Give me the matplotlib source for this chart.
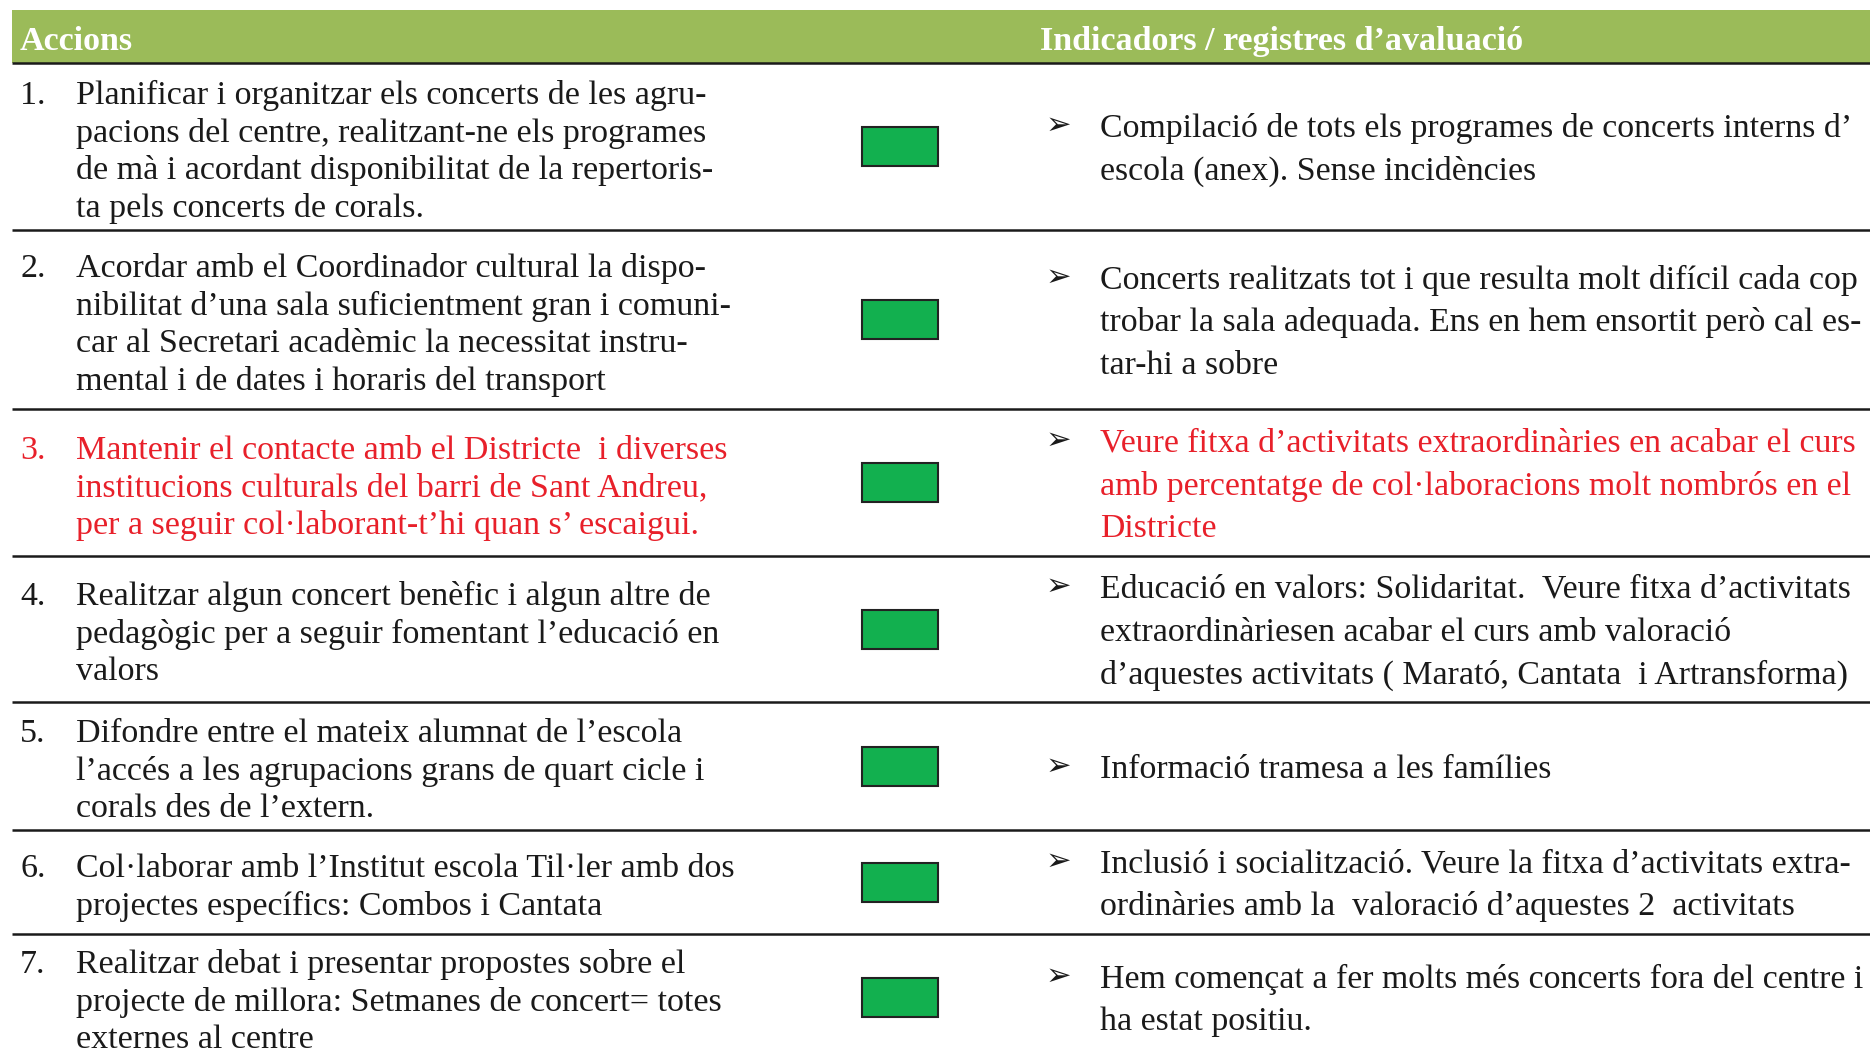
import matplotlib.pyplot as plt
from matplotlib.patches import Rectangle

# table content
headers = ["Accions", "Indicadors / registres d’avaluació"]

actions = [
    ["Planificar i organitzar els concerts de les agru-",
     "pacions del centre, realitzant-ne els programes",
     "de mà i acordant disponibilitat de la repertoris-",
     "ta pels concerts de corals."],
    ["Acordar amb el Coordinador cultural la dispo-",
     "nibilitat d’una sala suficientment gran i comuni-",
     "car al Secretari acadèmic la necessitat instru-",
     "mental i de dates i horaris del transport"],
    ["Mantenir el contacte amb el Districte  i diverses",
     "institucions culturals del barri de Sant Andreu,",
     "per a seguir col·laborant-t’hi quan s’ escaigui."],
    ["Realitzar algun concert benèfic i algun altre de",
     "pedagògic per a seguir fomentant l’educació en",
     "valors"],
    ["Difondre entre el mateix alumnat de l’escola",
     "l’accés a les agrupacions grans de quart cicle i",
     "corals des de l’extern."],
    ["Col·laborar amb l’Institut escola Til·ler amb dos",
     "projectes específics: Combos i Cantata"],
    ["Realitzar debat i presentar propostes sobre el",
     "projecte de millora: Setmanes de concert= totes",
     "externes al centre"],
]

indicators = [
    ["Compilació de tots els programes de concerts interns d’",
     "escola (anex). Sense incidències"],
    ["Concerts realitzats tot i que resulta molt difícil cada cop",
     "trobar la sala adequada. Ens en hem ensortit però cal es-",
     "tar-hi a sobre"],
    ["Veure fitxa d’activitats extraordinàries en acabar el curs",
     "amb percentatge de col·laboracions molt nombrós en el",
     "Districte"],
    ["Educació en valors: Solidaritat.  Veure fitxa d’activitats",
     "extraordinàriesen acabar el curs amb valoració",
     "d’aquestes activitats ( Marató, Cantata  i Artransforma)"],
    ["Informació tramesa a les famílies"],
    ["Inclusió i socialització. Veure la fitxa d’activitats extra-",
     "ordinàries amb la  valoració d’aquestes 2  activitats"],
    ["Hem començat a fer molts més concerts fora del centre i",
     "ha estat positiu."],
]

status = ["done", "done", "done", "done", "done", "done", "done"]
highlight = [False, False, True, False, False, False, False]

# layout (pixel units of the output image)
W, H = 1870, 1055
row_edges = [63, 230, 409, 556, 702, 830, 934, 1060]
header_green = "#9bbb59"
status_green = "#12b04f"
red = "#e8202a"
serif = ["Liberation Serif", "DejaVu Sans"]

fig = plt.figure(figsize=(W / 100, H / 100), dpi=100)
ax = fig.add_axes([0, 0, 1, 1])
ax.set_xlim(0, W)
ax.set_ylim(H, 0)
ax.axis("off")

# header band
ax.add_patch(Rectangle((12, 10), W - 12, 53, color=header_green, lw=0))
ax.text(20, 38, headers[0], color="white", fontsize=24.5, fontweight="bold",
        family=serif, va="center_baseline")
ax.text(1040, 38, headers[1], color="white", fontsize=24.5, fontweight="bold",
        family=serif, va="center_baseline")

for y in row_edges[:-1]:
    ax.plot([12, W], [y, y], color="#1a1a1a", lw=1.8, solid_capstyle="butt")

left_step, right_step = 37.6, 43.0
for i, (act, ind) in enumerate(zip(actions, indicators)):
    yc = (row_edges[i] + row_edges[i + 1]) / 2
    col = red if highlight[i] else "#1a1a1a"

    y0 = yc - (len(act) - 1) / 2 * left_step + 2
    ax.text(20, y0, f"{i + 1}.", color=col, fontsize=24.5, family=serif,
            va="center_baseline")
    for k, line in enumerate(act):
        ax.text(76, y0 + k * left_step, line, color=col, fontsize=24.5,
                family=serif, va="center_baseline")

    if status[i] == "done":
        ax.add_patch(Rectangle((862, yc - 19.5), 76, 39, facecolor=status_green,
                               edgecolor="#222222", lw=1.5))

    y1 = yc - (len(ind) - 1) / 2 * right_step
    ax.text(1046, y1 - 2, "➢", color="#1a1a1a", fontsize=22, family=serif,
            va="center_baseline")
    for k, line in enumerate(ind):
        ax.text(1100, y1 + k * right_step, line, color=col, fontsize=24.4,
                family=serif, va="center_baseline")

fig.savefig("out.png", dpi=100)
